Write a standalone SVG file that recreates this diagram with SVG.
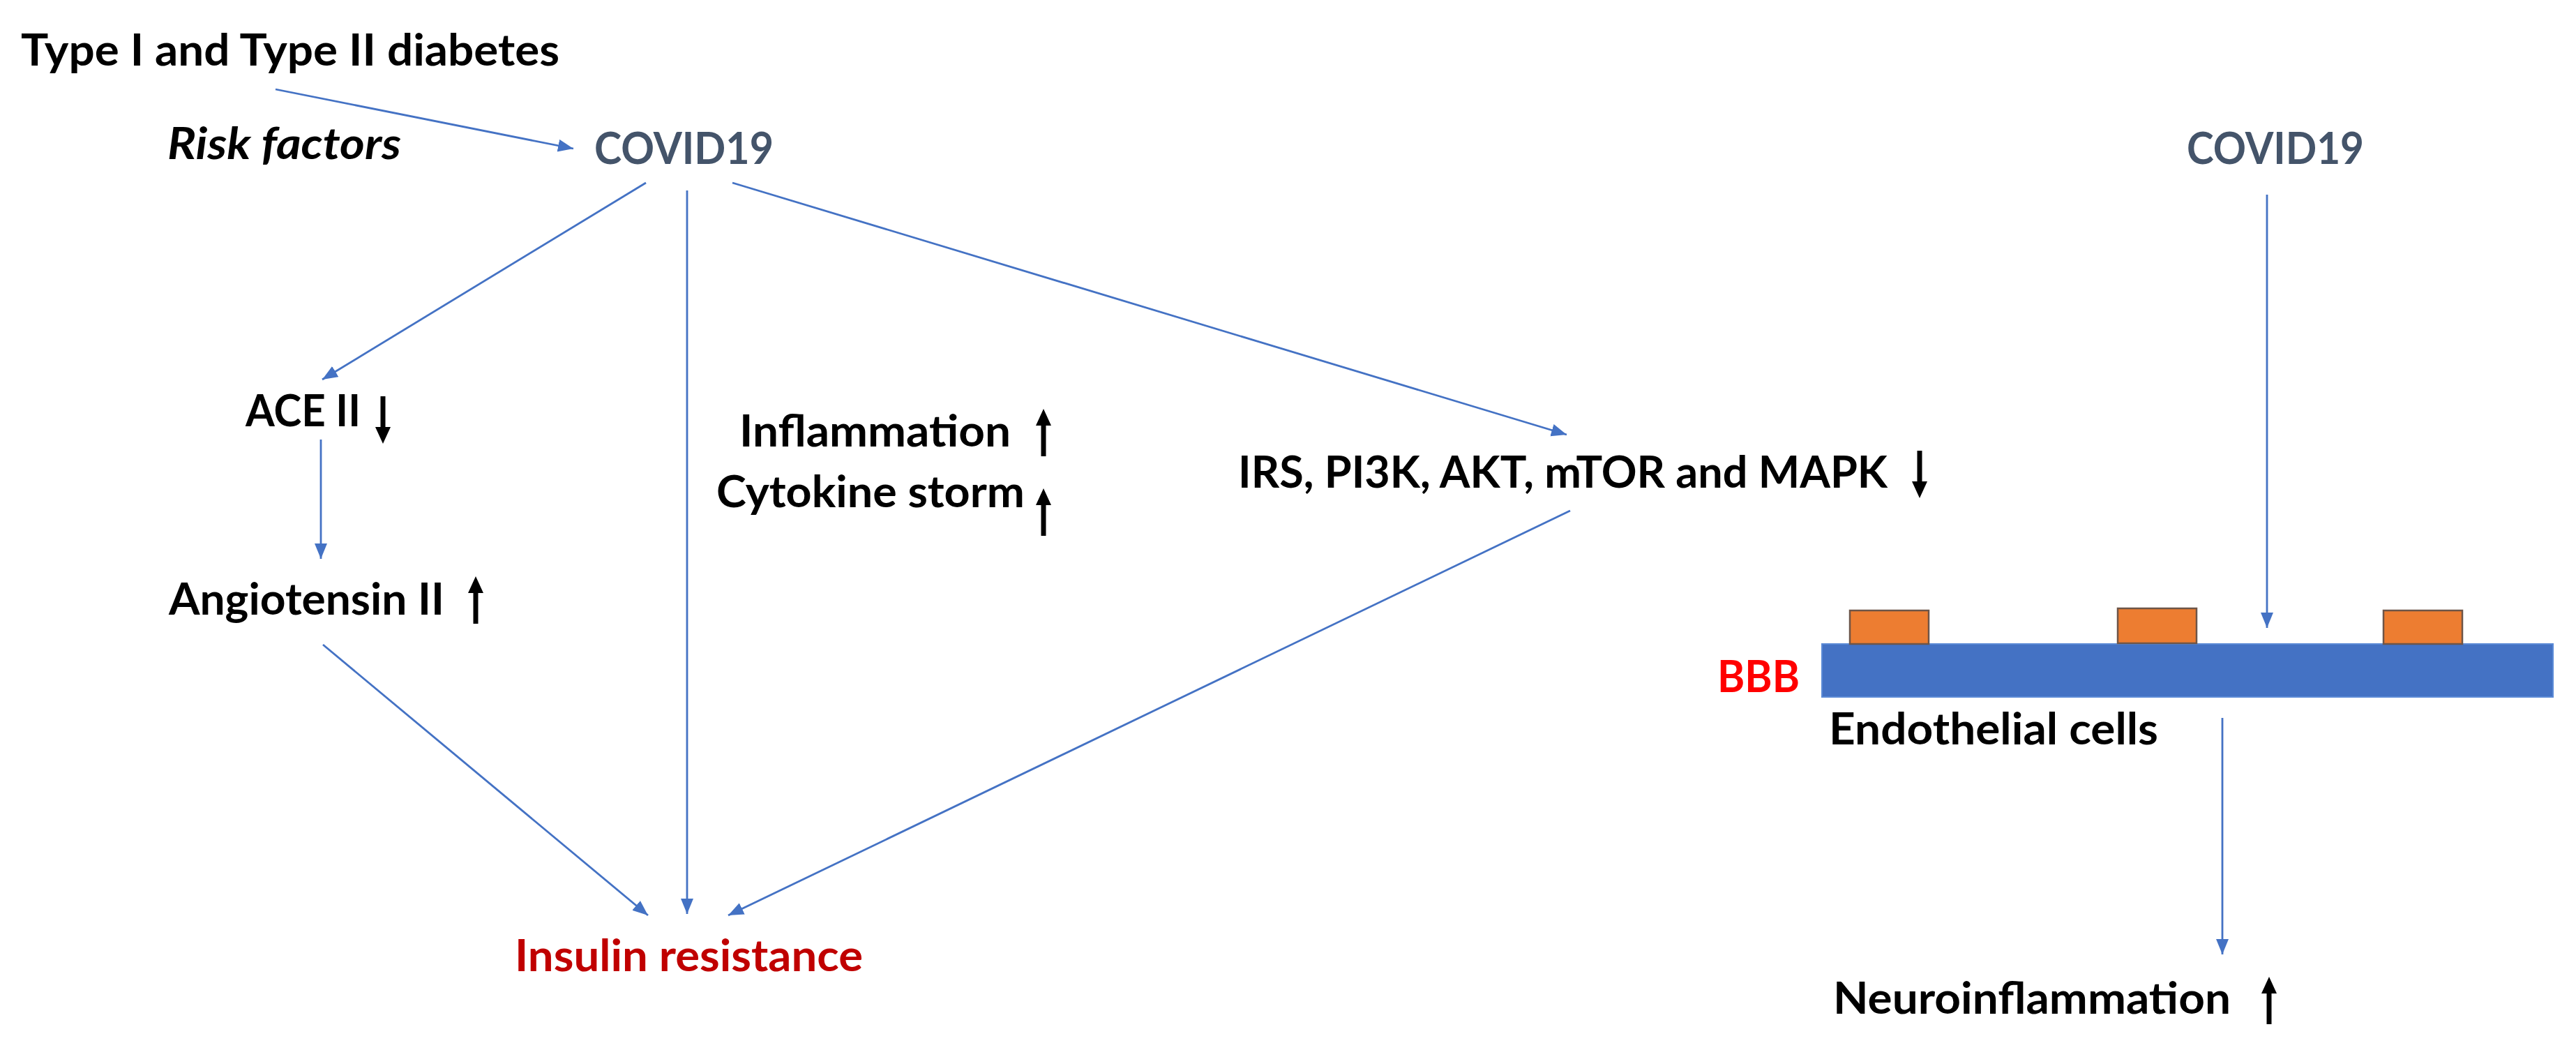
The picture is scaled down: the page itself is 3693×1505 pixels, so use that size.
<svg xmlns="http://www.w3.org/2000/svg" width="3693" height="1505" viewBox="0 0 3693 1505">
  <defs>
    <style>
      .t { font-family: Lato, "Liberation Sans", sans-serif; font-weight: 700; font-size: 63px; fill: #000000; }
      .it { font-style: italic; }
      .covid { fill: #44546A; }
      .ins { fill: #C00000; }
      .bbb { fill: #FF0000; }
      .conn { stroke: #4472C4; stroke-width: 2.8; fill: none; marker-end: url(#ah); }
      .blk { fill: #000000; }
      .cell { fill: #ED7D31; stroke: #6E5548; stroke-width: 2.5; }
      .bar { fill: #4472C4; stroke: #5B8AD6; stroke-width: 2; }
    </style>
    <marker id="ah" markerUnits="userSpaceOnUse" markerWidth="24" markerHeight="20" refX="22" refY="9" orient="auto">
      <path d="M0,0 L22,9 L0,18 Z" fill="#4472C4"/>
    </marker>
    <path id="arrUp" d="M-3.5,0 V-44 H-11 L0,-68 L11,-44 H3.5 V0 Z"/>
    <path id="arrDown" d="M-3.5,0 V44 H-11 L0,68 L11,44 H3.5 V0 Z"/>
  </defs>
  <rect x="0" y="0" width="3693" height="1505" fill="#FFFFFF"/>

  <g id="connectors">
    <line class="conn" x1="395" y1="128" x2="822" y2="213"/>
    <line class="conn" x1="926" y1="262" x2="462" y2="544"/>
    <line class="conn" x1="985" y1="273" x2="985" y2="1310"/>
    <line class="conn" x1="1050" y1="262" x2="2246" y2="623"/>
    <line class="conn" x1="460" y1="630" x2="460" y2="801"/>
    <line class="conn" x1="463" y1="924" x2="929" y2="1312"/>
    <line class="conn" x1="2251" y1="732" x2="1044" y2="1312"/>
    <line class="conn" x1="3250" y1="279" x2="3250" y2="900"/>
    <line class="conn" x1="3186" y1="1029" x2="3186" y2="1368"/>
  </g>

  <g id="node-diabetes">
    <text class="t" x="30" y="94" textLength="772" lengthAdjust="spacingAndGlyphs">Type I and Type II diabetes</text>
  </g>
  <g id="node-risk-factors">
    <text class="t it" x="240" y="228" textLength="335" lengthAdjust="spacingAndGlyphs">Risk factors</text>
  </g>
  <g id="node-covid-left">
    <text class="t covid" x="852" y="235" textLength="257" lengthAdjust="spacingAndGlyphs">COVID19</text>
  </g>
  <g id="node-ace">
    <text class="t" x="352" y="611" textLength="165" lengthAdjust="spacingAndGlyphs">ACE II</text>
    <use href="#arrDown" class="blk" transform="translate(549,568)"/>
  </g>
  <g id="node-angiotensin">
    <text class="t" x="242" y="881" textLength="395" lengthAdjust="spacingAndGlyphs">Angiotensin II</text>
    <use href="#arrUp" class="blk" transform="translate(682,894)"/>
  </g>
  <g id="node-inflammation">
    <text class="t" x="1060" y="640" textLength="389" lengthAdjust="spacingAndGlyphs">Inflammation</text>
    <use href="#arrUp" class="blk" transform="translate(1496,654)"/>
  </g>
  <g id="node-cytokine">
    <text class="t" x="1027" y="727" textLength="442" lengthAdjust="spacingAndGlyphs">Cytokine storm</text>
    <use href="#arrUp" class="blk" transform="translate(1496,768)"/>
  </g>
  <g id="node-irs">
    <text class="t" x="1775" y="699" textLength="931" lengthAdjust="spacingAndGlyphs">IRS, PI3K, AKT, mTOR and MAPK</text>
    <use href="#arrDown" class="blk" transform="translate(2752,646)"/>
  </g>
  <g id="node-insulin">
    <text class="t ins" x="738" y="1392" textLength="499" lengthAdjust="spacingAndGlyphs">Insulin resistance</text>
  </g>
  <g id="node-covid-right">
    <text class="t covid" x="3135" y="235" textLength="254" lengthAdjust="spacingAndGlyphs">COVID19</text>
  </g>
  <g id="node-bbb">
    <rect class="bar" x="2612" y="923" width="1048" height="76"/>
    <rect class="cell" x="2652" y="875" width="113" height="48"/>
    <rect class="cell" x="3036" y="872" width="113" height="50"/>
    <rect class="cell" x="3417" y="875" width="113" height="48"/>
    <text class="t bbb" x="2462" y="992" textLength="118" lengthAdjust="spacingAndGlyphs">BBB</text>
  </g>
  <g id="node-endothelial">
    <text class="t" x="2622" y="1067" textLength="472" lengthAdjust="spacingAndGlyphs">Endothelial cells</text>
  </g>
  <g id="node-neuro">
    <text class="t" x="2628" y="1453" textLength="570" lengthAdjust="spacingAndGlyphs">Neuroinflammation</text>
    <use href="#arrUp" class="blk" transform="translate(3253,1468)"/>
  </g>
</svg>
